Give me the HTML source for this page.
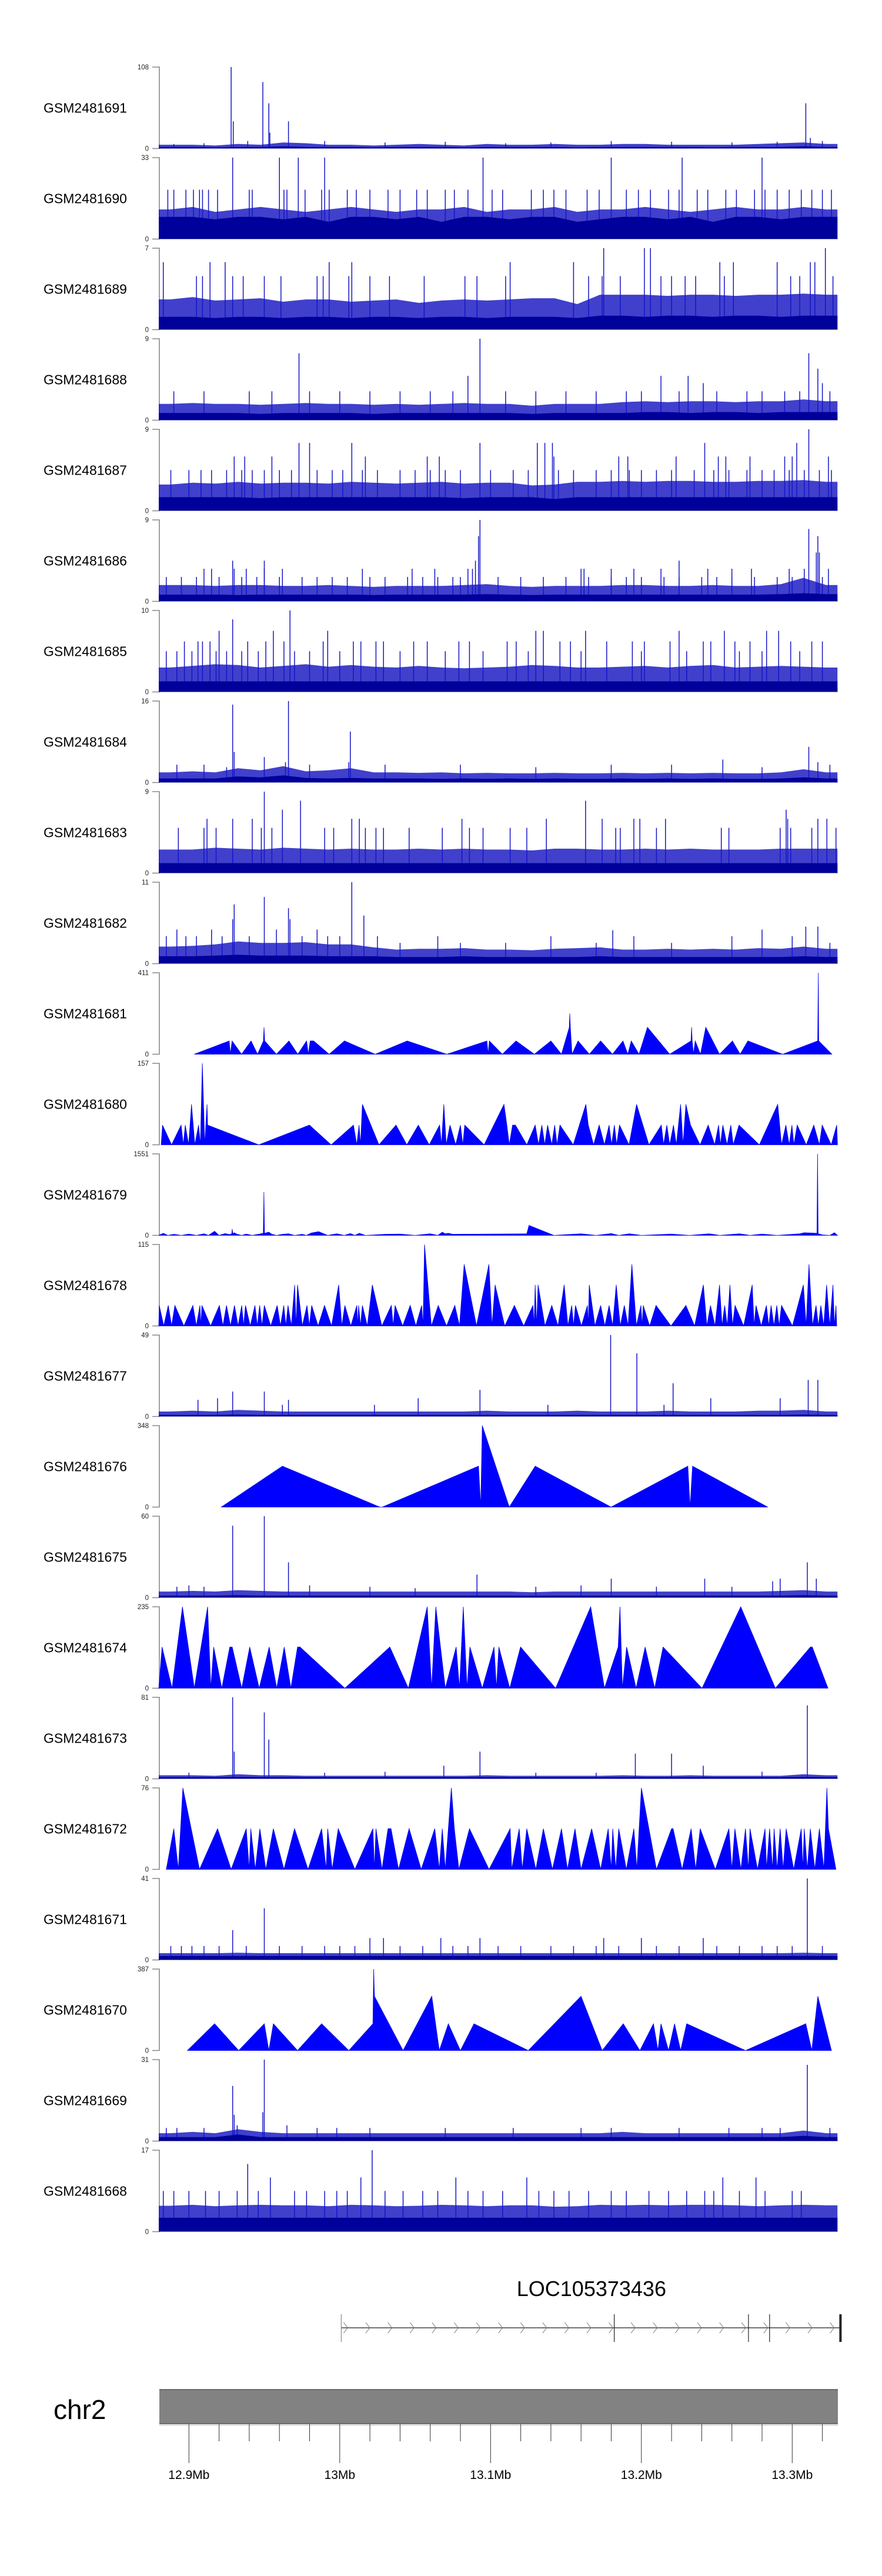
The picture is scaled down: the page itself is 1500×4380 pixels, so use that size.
<!DOCTYPE html>
<html><head><meta charset="utf-8"><title>Coverage tracks chr2</title>
<style>
html,body{margin:0;padding:0;background:#fff;}
svg{display:block;font-family:"Liberation Sans",Arial,sans-serif;}
</style></head>
<body>
<svg id="chart" xmlns="http://www.w3.org/2000/svg" width="1500" height="4380" viewBox="0 0 1500 4380">
<rect x="0" y="0" width="1500" height="4380" fill="#fff"/>
<g id="tracks"></g>
<g id="gene"></g>
<g id="ideo"></g>
</svg>
<script>
// ---------- data (positions in kb from region start 12,880 kb) ----------
const trackNames = ["GSM2481691","GSM2481690","GSM2481689","GSM2481688","GSM2481687","GSM2481686","GSM2481685","GSM2481684","GSM2481683","GSM2481682","GSM2481681","GSM2481680","GSM2481679","GSM2481678","GSM2481677","GSM2481676","GSM2481675","GSM2481674","GSM2481673","GSM2481672","GSM2481671","GSM2481670","GSM2481669","GSM2481668"];
const trackMax = [108,33,7,9,9,9,10,16,9,11,411,157,1551,115,49,348,60,235,81,76,41,387,31,17];
const REGION_START_KB = 12880;
const REGION_LEN_KB = 450;
const majorTicksMb = [12.9,13.0,13.1,13.2,13.3];
const majorTickLabels = ["12.9Mb","13Mb","13.1Mb","13.2Mb","13.3Mb"];
const minorTicksMb = [12.92,12.94,12.96,12.98,13.02,13.04,13.06,13.08,13.12,13.14,13.16,13.18,13.22,13.24,13.26,13.28,13.32];
const geneName = "LOC105373436";
const geneStartKb = 121;
const geneEndKb = 452;
const geneExonKb = [121,302,391,405,452];

const lo691 = [2,2,1.5,2,2,3,2,2,2,1.5,2,2,2,1.5,2,2,2,2,1.5,2,2,2,2,2,1.5,2,2,2,3,2];
const hi691 = [5,5,4,6,5,8,7,5,5,4,5,6,5,4,6,5,5,6,5,5,6,6,5,5,5,5,6,7,8,6];
const spPos691 = [48,49.4,59,69,73,73.7,86,10,30,110,150,190,230,260,300,340,380,410,429,432,440];
const spVal691 = [108,36,10,88,60,21,36,6,7,10,8,9,7,8,10,9,8,9,60,14,10];

const lo690 = [9,9,8,9,9,8,9,7,9,9,8,9,7,9,9,8,9,9,7,8,9,9,8,9,7,9,9,8,9,9];
const hi690 = [12,13,11,12,13,12,11,12,13,12,11,12,12,13,11,12,12,13,11,12,12,13,12,11,12,13,12,12,13,12];
const spPos690 = [6,10,18,23,27,29,33,39,60,62,83,85,97,108,113,125,131,140,152,160,171,178,190,196,205,221,228,247,255,262,270,284,292,310,318,326,338,345,357,364,376,383,395,402,410,418,426,433,440,446,49,80,92.5,110,215,300,347,400];
const spVal690 = [20,20,20,20,20,20,20,20,20,20,20,20,20,20,20,20,20,20,20,20,20,20,20,20,20,20,20,20,20,20,20,20,20,20,20,20,20,20,20,20,20,20,20,20,20,20,20,20,20,20,33,33,33,33,33,33,33,33];

const lo689 = [1.1,1.1,1,1.1,1.1,1,1.1,1.1,1,1.1,1.1,1,1.1,1.1,1,1.1,1.1,1.1,1,1.2,1.2,1.1,1.2,1.2,1.1,1.2,1.2,1.1,1.2,1.2];
const hi689 = [2.6,2.8,2.5,2.6,2.7,2.4,2.6,2.6,2.4,2.5,2.6,2.3,2.5,2.6,2.5,2.6,2.7,2.7,2.2,3.0,3.0,3.0,2.9,3.0,3.0,2.9,3.0,3.0,3.1,3.0];
const spPos689 = [25,29,49,56,70,81,105,109,126,140,153,176,203,211,230,285,294,306,333,340,349,356,375,419,425,447,3,34,44,113,128,233,275,372,381,410,432,435,295,322,326,442];
const spVal689 = [4.6,4.6,4.6,4.6,4.6,4.6,4.6,4.6,4.6,4.6,4.6,4.6,4.6,4.6,4.6,4.6,4.6,4.6,4.6,4.6,4.6,4.6,4.6,4.6,4.6,4.6,5.8,5.8,5.8,5.8,5.8,5.8,5.8,5.8,5.8,5.8,5.8,5.8,7,7,7,7];

const lo688 = [0.8,0.8,0.8,0.8,0.7,0.8,0.8,0.8,0.8,0.7,0.8,0.8,0.8,0.8,0.8,0.8,0.7,0.8,0.8,0.8,0.8,0.9,0.9,0.8,0.9,0.9,0.8,0.9,0.9,0.9];
const hi688 = [1.8,1.9,1.8,1.8,1.7,1.8,1.9,1.8,1.8,1.7,1.8,1.7,1.8,1.9,1.8,1.8,1.6,1.8,1.8,1.8,2.0,2.1,2.0,2.1,2.1,2.0,2.1,2.1,2.3,2.1];
const spPos688 = [10,30,60,75,100,120,140,160,180,195,230,250,270,290,310,320,345,370,390,400,415,425,445,93,205,213,333,351,361,431,437,440];
const spVal688 = [3.2,3.2,3.2,3.2,3.2,3.2,3.2,3.2,3.2,3.2,3.2,3.2,3.2,3.2,3.2,3.2,3.2,3.2,3.2,3.2,3.2,3.2,3.2,7.4,4.9,9,4.9,4.9,4.1,7.4,5.7,4.1];

const lo687 = [1.5,1.5,1.5,1.5,1.4,1.5,1.5,1.5,1.5,1.5,1.5,1.5,1.5,1.4,1.5,1.5,1.5,1.3,1.5,1.5,1.5,1.5,1.5,1.5,1.5,1.5,1.5,1.5,1.5,1.5];
const hi687 = [2.9,3.1,3.0,3.2,3.0,3.1,3.1,3.0,3.2,3.1,3.0,3.1,3.2,3.0,3.1,3.1,2.8,2.9,3.2,3.2,3.3,3.2,3.3,3.3,3.2,3.2,3.3,3.3,3.4,3.2];
const spPos687 = [8,20,28,35,45,55,62,70,80,88,105,115,122,135,145,160,170,180,190,200,220,235,245,265,275,290,300,312,320,330,340,355,368,378,390,400,408,418,428,438,446,50,57,75,137,178,186,262,305,311,343,371,376,392,415,420,444,93,100,128,213,251,256,261,362,423,431];
const spVal687 = [4.5,4.5,4.5,4.5,4.5,4.5,4.5,4.5,4.5,4.5,4.5,4.5,4.5,4.5,4.5,4.5,4.5,4.5,4.5,4.5,4.5,4.5,4.5,4.5,4.5,4.5,4.5,4.5,4.5,4.5,4.5,4.5,4.5,4.5,4.5,4.5,4.5,4.5,4.5,4.5,4.5,6,6,6,6,6,6,6,6,6,6,6,6,6,6,6,6,7.5,7.5,7.5,7.5,7.5,7.5,7.5,7.5,7.5,9];

const lo686 = [0.75,0.75,0.75,0.7,0.75,0.75,0.75,0.75,0.75,0.7,0.75,0.75,0.75,0.75,0.8,0.75,0.7,0.75,0.75,0.75,0.75,0.75,0.75,0.75,0.75,0.75,0.75,0.8,0.9,0.8];
const hi686 = [1.8,1.8,1.7,1.8,1.8,1.7,1.7,1.8,1.7,1.6,1.7,1.7,1.7,1.8,1.9,1.7,1.6,1.7,1.7,1.7,1.8,1.8,1.7,1.7,1.8,1.7,1.7,1.9,2.6,1.8];
const spPos686 = [5,15,25,40,55,65,80,95,105,115,125,140,150,165,175,185,195,200,225,240,255,270,285,300,310,320,335,345,360,370,380,395,410,420,440,30,35,50,58,70,82,135,168,183,205,208,280,282,300,315,333,364,380,393,418,428,444,49,70,210,345,213,212,431,437,436,438];
const spVal686 = [2.7,2.7,2.7,2.7,2.7,2.7,2.7,2.7,2.7,2.7,2.7,2.7,2.7,2.7,2.7,2.7,2.7,2.7,2.7,2.7,2.7,2.7,2.7,2.7,2.7,2.7,2.7,2.7,2.7,2.7,2.7,2.7,2.7,2.7,2.7,3.6,3.6,3.6,3.6,3.6,3.6,3.6,3.6,3.6,3.6,3.6,3.6,3.6,3.6,3.6,3.6,3.6,3.6,3.6,3.6,3.6,3.6,4.5,4.5,4.5,4.5,9,7.2,8,7.2,5.4,5.4];

const lo685 = [1.3,1.3,1.3,1.3,1.3,1.3,1.3,1.3,1.3,1.3,1.3,1.3,1.3,1.3,1.3,1.3,1.3,1.3,1.3,1.3,1.3,1.3,1.3,1.3,1.3,1.3,1.3,1.3,1.3,1.3];
const hi685 = [3.0,3.2,3.4,3.3,3.0,3.2,3.4,3.1,3.3,3.1,3.0,3.2,3.0,2.9,3.0,3.1,3.3,3.2,3.0,3.0,3.1,3.2,3.0,3.2,3.3,3.0,3.1,3.2,3.1,3.0];
const spPos685 = [5,12,22,38,45,55,66,90,100,120,160,190,215,245,280,320,350,385,400,425,40,76,112,250,255,283,345,375,403,411,17,26,29,34,59,71,83,109,129,134,144,149,169,178,199,206,231,237,266,273,297,314,322,339,361,366,382,392,419,433,440,49,87];
const spVal685 = [5,5,5,5,5,5,5,5,5,5,5,5,5,5,5,5,5,5,5,5,7.5,7.5,7.5,7.5,7.5,7.5,7.5,7.5,7.5,7.5,6.2,6.2,6.2,6.2,6.2,6.2,6.2,6.2,6.2,6.2,6.2,6.2,6.2,6.2,6.2,6.2,6.2,6.2,6.2,6.2,6.2,6.2,6.2,6.2,6.2,6.2,6.2,6.2,6.2,6.2,6.2,8.9,10];

const lo684 = [0.8,0.8,0.8,1.2,1.0,1.4,0.9,0.8,0.9,0.8,0.8,0.8,0.7,0.8,0.7,0.8,0.7,0.8,0.7,0.7,0.8,0.7,0.8,0.7,0.8,0.7,0.7,0.8,1.0,0.8];
const hi684 = [2,2.2,2,2.8,2.4,3.2,2.2,2.4,2.8,2,2,1.9,2,1.8,1.9,1.8,1.8,1.9,1.8,1.8,1.9,1.8,1.9,1.8,1.9,1.8,1.8,2,2.6,2];
const spPos684 = [49,50,86,84,127,126,70,431,374,437,12,30,45,100,150,200,250,300,340,400,445];
const spVal684 = [15.3,6,16,4,10,4,5,7,4.5,4,3.5,3.5,3,3.5,3.5,3.5,3,3.5,3.5,3,3.5];

const lo683 = [1.1,1.1,1.1,1.1,1.1,1.1,1.1,1.1,1.1,1.1,1.1,1.1,1.1,1.1,1.1,1.1,1.1,1.1,1.1,1.1,1.1,1.1,1.1,1.1,1.1,1.1,1.1,1.1,1.1,1.1];
const hi683 = [2.6,2.6,2.8,2.7,2.6,2.8,2.7,2.6,2.7,2.6,2.6,2.7,2.6,2.7,2.6,2.6,2.5,2.7,2.7,2.6,2.6,2.7,2.6,2.7,2.6,2.6,2.6,2.7,2.7,2.7];
const spPos683 = [13,30,38,68,75,110,116,137,144,149,166,188,206,215,233,244,303,306,330,373,378,412,419,433,449,32,49,62,128,133,201,257,294,315,319,336,417,437,443,82,416,94,283,70];
const spVal683 = [5,5,5,5,5,5,5,5,5,5,5,5,5,5,5,5,5,5,5,5,5,5,5,5,5,6,6,6,6,6,6,6,6,6,6,6,6,6,6,7,7,8,8,9];

const lo682 = [1,1,1.1,1.2,1.1,1.1,1.1,1,1,1,0.9,0.9,0.9,1,0.9,0.9,0.9,0.9,0.9,1,0.9,0.9,0.9,0.9,0.9,0.9,0.9,0.9,1,0.9];
const hi682 = [2.3,2.4,2.6,3.0,2.8,2.8,2.9,2.6,2.6,2.2,1.9,2,2,2.1,1.9,1.9,1.8,2,2.1,2.2,1.9,1.9,2,1.9,2,1.9,2.1,2,2.3,2];
const spPos682 = [128,70,50,86,136,301,429,437,49,87,5,12,18,25,35,42,60,78,95,105,112,120,145,160,185,200,230,260,290,315,340,380,400,420,445];
const spVal682 = [11,9,8,7.5,6.5,4.5,5,5,6,6,3.7,4.6,3.7,3.7,4.6,3.7,3.7,4.6,3.7,4.6,3.7,3.7,3.7,2.8,3.7,2.8,2.8,3.7,2.8,3.7,2.8,3.7,4.6,3.7,2.8];

const lo677 = [1,1,1,1.2,1,1,1,1,1,1,1,1,1,1,1,1,1,1,1,1,1,1,1,1,1,1,1,1,1.2,1];
const hi677 = [3,3.5,3,4,3.5,3,3,3,3,3,3,3,3,3,3.5,3,3,3,3.5,3,3,3,3.5,3,3,3,3.5,3.5,4,3];
const spPos677 = [299.6,317,341,430.6,437,213,49,70,39,26,86,366,412,172,143,335,258,82];
const spVal677 = [49,38,20,22,22,16,15,15,11,10,10,11,11,11,7,7,7,7];

const lo675 = [1.5,1.5,1.5,1.8,1.5,1.5,1.5,1.5,1.5,1.5,1.5,1.5,1.5,1.5,1.5,1.5,1.4,1.5,1.5,1.5,1.5,1.5,1.5,1.5,1.5,1.5,1.5,1.5,1.8,1.5];
const hi675 = [4.5,5,4.5,5.5,5,4.5,4.5,4.5,4.5,4.5,4.5,4.5,4.5,4.5,4.5,4.5,4,4.5,4.5,4.5,4.5,4.5,4.5,4.5,4.5,4.5,4.5,5,5.5,4.5];
const spPos675 = [49,70,86,211,300,430,362,412,436,407,12,20,30,100,140,170,250,280,330,380];
const spVal675 = [53,60,26,17,14,26,14,14,14,12,8,9,8,9,8,7,8,9,8,8];

const lo673 = [1.5,1.5,1.5,1.8,1.5,1.5,1.5,1.5,1.5,1.5,1.5,1.5,1.5,1.5,1.5,1.5,1.5,1.5,1.5,1.5,1.5,1.5,1.5,1.5,1.5,1.5,1.5,1.5,1.8,1.5];
const hi673 = [3.5,3.5,3,4.5,3.5,3.5,3,3,3,3,3,3,3,3,3.5,3,3,3,3,3,3.5,3,3,3.5,3,3,3,3,4.5,3.5];
const spPos673 = [49,70,73,213,189,316,340,361,430,50,20,110,150,250,290,400];
const spVal673 = [81,66,39,27,13,25,25,13,73,27,6,6,7,6,6,7];

const lo671 = [2,2,2,2,2,2,2,2,2,2,2,2,2,2,2,2,2,2,2,2,2,2,2,2,2,2,2,2,2,2];
const hi671 = [3.4,3.4,3.4,3.6,3.4,3.4,3.4,3.4,3.4,3.4,3.4,3.4,3.4,3.4,3.4,3.4,3.4,3.4,3.4,3.4,3.4,3.4,3.4,3.4,3.4,3.4,3.4,3.4,3.6,3.4];
const spPos671 = [430,70,49,140,149,187,213,295,320,361,8,15,22,30,40,58,80,95,110,120,130,160,175,195,205,225,240,260,275,290,305,330,345,370,385,400,410,420,440];
const spVal671 = [41,26,15,11,11,11,11,11,11,11,7,7,7,7,7,7,7,7,7,7,7,7,7,7,7,7,7,7,7,7,7,7,7,7,7,7,7,7,7];

const lo669 = [1.5,1.5,1.5,2.5,1.5,1.5,1.5,1.5,1.5,1.5,1.5,1.5,1.5,1.5,1.5,1.5,1.5,1.5,1.5,1.5,1.5,1.5,1.5,1.5,1.5,1.5,1.5,1.5,2,1.5];
const hi669 = [3,3.5,3,4.5,3.5,3,3,3,3,3,3,3,3,3,3,3,3,3,3,3,3.5,3,3,3,3,3,3,3,4,3];
const spPos669 = [49,70,430,50,52,69,5,12,30,85,105,118,140,190,235,280,300,345,378,400,412,445];
const spVal669 = [21,31,29,10,6,11,5,5,5,6,5,5,5,5,5,5,5,5,5,5,5,5];

const lo668 = [2.9,2.9,2.9,2.9,2.9,2.9,2.9,2.9,2.9,2.9,2.9,2.9,2.9,2.9,2.9,2.9,2.9,2.9,2.9,2.9,2.9,2.9,2.9,2.9,2.9,2.9,2.9,2.9,2.9,2.9];
const hi668 = [5.4,5.6,5.3,5.5,5.6,5.5,5.5,5.3,5.6,5.5,5.3,5.4,5.6,5.5,5.3,5.5,5.5,5.2,5.3,5.6,5.5,5.6,5.5,5.6,5.6,5.5,5.3,5.5,5.6,5.5];
const spPos668 = [59,141.5,74,134,197,244,374,396,3,10,20,31,40,52,66,90,98,110,118,125,150,162,175,185,205,215,228,252,262,272,285,300,310,325,338,350,362,368,385,402,420,426];
const spVal668 = [14.1,17,11.3,11.3,11.3,11.3,11.3,11.3,8.5,8.5,8.5,8.5,8.5,8.5,8.5,8.5,8.5,8.5,8.5,8.5,8.5,8.5,8.5,8.5,8.5,8.5,8.5,8.5,8.5,8.5,8.5,8.5,8.5,8.5,8.5,8.5,8.5,8.5,8.5,8.5,8.5,8.5];

const pos681 = [23.5,46.7,47.5,48.6,54.9,61.2,65.5,69.4,69.8,70.2,78,86.3,92.2,98,99.2,100.4,102.7,113,123.1,143.5,164.7,191,217.6,218.4,219.2,227.8,236.9,249,260,267,272.2,272.5,272.9,274,278,285.5,293,300.8,307.8,311,313.3,318.4,324,338.8,352.9,353.3,353.7,354.5,355.7,359.2,362.7,371.8,380.4,385.5,390.6,413.7,436.9,437.3,437.6,446.3];
const val681 = [0,67,0,67,0,67,0,67,136,67,0,67,0,67,0,67,67,0,67,0,67,0,67,0,67,0,67,0,67,0,136,205,136,0,67,0,67,0,67,0,67,0,136,0,67,136,67,0,67,0,136,0,67,0,67,0,67,411,67,0];

const pos680 = [1.6,2.5,8.5,14.8,16.3,17.6,19.8,21.7,23.9,26.4,27.6,28.9,30.5,32,32.4,66.3,99.9,114.3,129.1,131.3,132.8,133.8,135,146,157.3,164.5,172.1,179.3,186.2,187.5,189,190.6,193.1,196.9,200,201.6,202.9,215.7,228.9,230.8,232.4,234.6,236.5,244,249.6,251.8,254,255.9,257.8,260.6,262.5,264.1,266,274.8,283.2,284.8,288.3,292,295.5,298.6,300.2,302.1,303.6,305.5,311.8,316.8,325,333.2,334.7,336.9,338.8,341.3,343.2,346,347.6,349.5,352.6,358.9,364.3,368.6,371.2,372.4,374,376.8,379.3,380.9,384.7,398.2,410.4,412.9,415.8,418,419.8,421.1,423.3,429.3,434.3,438,439.9,445.9,449.5,450];
const val680 = [0,38,0,38,0,38,0,78,0,38,0,157,0,78,38,0,38,0,38,0,38,0,78,0,38,0,38,0,38,0,78,0,38,0,38,0,38,0,78,38,0,38,38,0,38,0,38,0,38,0,38,0,38,0,78,38,0,38,0,38,0,38,0,38,0,78,0,38,0,38,0,38,0,78,0,78,38,0,38,0,38,0,38,0,38,0,38,0,78,0,38,0,38,0,38,0,38,0,38,0,38,0];

const pos679 = [0,3,6,10,15,20,25,30,33,37,40,44,47,48.4,48.7,49.1,50,52,55,58,62,66,69.3,69.7,70.1,73,75,78,82,86,90,95,98,101,106,112,118,123,127,130,133,137,150,160,170,180,185,188,190,192,195,244,245.5,262,280,290,300,305,312,320,340,352,365,372,385,392,400,410,425,428,436.4,436.8,437.2,440,445,448,450];
const val679 = [0,40,0,20,0,25,0,30,0,78,0,35,15,30,120,30,50,20,0,25,0,20,40,826,40,60,20,0,20,30,0,20,0,45,70,0,30,0,35,0,40,0,20,25,0,30,0,60,30,40,20,30,190,0,30,0,35,0,30,0,25,0,30,0,30,0,25,0,30,50,40,1551,30,10,0,50,0];

const apexPos678 = [0.3,6.3,10.7,22.6,27.3,28.6,40.2,44.9,50.2,55,57.5,63.8,66.9,70,78.5,82.9,85.7,90.1,92,98.3,101.4,109.9,119.3,123.4,131.3,132.5,135,141.6,154.2,156.7,166.7,174.3,176.2,185.3,196.3,202.5,218.9,223,235.8,248.1,249.6,251.5,260.6,268.8,273.8,276.3,284.2,285.4,293,298.6,303.3,308.7,313.7,319.7,321.2,329.7,349.5,361.1,365.8,371.8,375.2,378.7,382.1,393.5,396,402.9,406,409.8,412.9,427.4,431.1,435.8,439,442.8,447,449];
const apexVal678 = [29,29,29,29,29,29,29,29,29,29,29,29,29,29,29,29,29,58,58,29,29,29,58,29,29,29,29,58,29,29,29,29,115,29,29,87,87,58,29,29,58,58,29,58,29,29,29,58,29,29,58,29,87,29,29,29,29,58,29,58,29,58,29,58,29,29,29,29,29,58,87,29,29,58,58,29];

const pos676 = [41.5,82,146.6,148.2,212,213.5,214.5,232.4,249.6,299.9,350.8,352.3,353.9,403.8];
const val676 = [0,175,0,0,175,0,348,0,175,0,175,0,175,0];

const pos674 = [0,2.2,8.8,15.7,23.6,32.4,34.5,36.4,41.8,47.1,48.7,55,60.3,66.6,73.2,78.2,83.2,87.6,92,93.6,123.4,153.2,165.5,178,180.9,183.7,190,197.2,199.4,201.9,204.4,206.3,214.5,222.3,223.9,225.5,232.7,239.9,263.1,286.4,295.5,304.6,305.8,307.4,310.2,316.5,322.5,328.8,334.4,360.2,385.9,408.8,432.1,433.3,443.7];
const val674 = [0,119,0,235,0,235,0,119,0,119,119,0,119,0,119,0,119,0,119,119,0,119,0,235,0,235,0,119,0,235,0,119,0,119,0,119,0,119,0,235,0,119,235,0,119,0,119,0,119,0,235,0,119,119,0];

const pos672 = [5,10,13,16,27,39,48,58,60,61,64,67,71,76,83,90,99,108,111,112,115,119,130,142,143,144,148,152,154,159,166,174,183,186,188,190,192,194,196,199,206,219,233,234,239,241,244,250,255,261,267,271,276,280,287,293,298,300,301,303,305,310,315,317,320,330,340,341,347,353,356,359,369,378,380,382,386,389,391,392,397,402,403,405,407,408,410,412,414,416,421,426,427,428,430,432,435,438,441,443,444,449];
const val672 = [0,38,0,76,0,38,0,38,0,38,0,38,0,38,0,38,0,38,0,38,0,38,0,38,0,38,0,38,38,0,38,0,38,0,38,0,38,76,38,0,38,0,38,0,38,0,38,0,38,0,38,0,38,0,38,0,38,0,38,0,38,0,38,0,76,0,38,38,0,38,0,38,0,38,0,38,0,38,0,38,0,38,0,38,0,38,0,38,0,38,0,38,0,38,0,38,0,38,0,76,38,0];

const pos670 = [19,37,53,70,73,76,92,108,126,142,142.5,143,162,181,186,192,200,209,245,280,294,308,319,328,331,333,338,342,346,350,389,429,433,437,446];
const val670 = [0,127,0,127,0,127,0,127,0,127,387,258,0,258,0,127,0,127,0,258,0,127,0,127,0,127,0,127,0,127,0,127,0,258,0];

// ---------- rendering ----------
const NS = "http://www.w3.org/2000/svg";
const X0 = 270, PX_PER_KB = 2.565;
const TRACK_TOP0 = 114, TRACK_STEP = 154, TRACK_H = 138.5;
function xs(kb){ return X0 + kb*PX_PER_KB; }
function xMb(mb){ return xs(mb*1000 - REGION_START_KB); }
function trackTop(i){ return TRACK_TOP0 + i*TRACK_STEP; }
function ys(v,i){ const b = trackTop(i)+TRACK_H; return b - Math.min(v,trackMax[i])/trackMax[i]*TRACK_H; }
function mk(tag, attrs, parent){ const e=document.createElementNS(NS,tag); for(const k in attrs) e.setAttribute(k,attrs[k]); parent.appendChild(e); return e; }

const dense = {
 0:[lo691,hi691,spPos691,spVal691],1:[lo690,hi690,spPos690,spVal690],2:[lo689,hi689,spPos689,spVal689],
 3:[lo688,hi688,spPos688,spVal688],4:[lo687,hi687,spPos687,spVal687],5:[lo686,hi686,spPos686,spVal686],
 6:[lo685,hi685,spPos685,spVal685],7:[lo684,hi684,spPos684,spVal684],8:[lo683,hi683,spPos683,spVal683],
 9:[lo682,hi682,spPos682,spVal682],14:[lo677,hi677,spPos677,spVal677],16:[lo675,hi675,spPos675,spVal675],
 18:[lo673,hi673,spPos673,spVal673],20:[lo671,hi671,spPos671,spVal671],22:[lo669,hi669,spPos669,spVal669],
 23:[lo668,hi668,spPos668,spVal668]
};
const tri = {10:[pos681,val681],11:[pos680,val680],12:[pos679,val679],15:[pos676,val676],17:[pos674,val674],19:[pos672,val672],21:[pos670,val670]};

function binPoly(arr,i){
  const n=arr.length, w=REGION_LEN_KB/n, base=trackTop(i)+TRACK_H;
  let pts=[xs(0)+','+base, xs(0)+','+ys(arr[0],i)];
  for(let k=0;k<n;k++){ pts.push(xs((k+0.5)*w).toFixed(1)+','+ys(arr[k],i).toFixed(1)); }
  pts.push(xs(REGION_LEN_KB)+','+ys(arr[n-1],i)); pts.push(xs(REGION_LEN_KB)+','+base);
  return pts.join(' ');
}

const tracksG = document.getElementById('tracks');
for(let i=0;i<trackNames.length;i++){
  const g = mk('g',{},tracksG);
  
  
  const top=trackTop(i), bot=top+TRACK_H;
  const lab = mk('text',{x:74,y:top+TRACK_H/2+8,'font-size':23,fill:'#000'},g);
  lab.textContent = trackNames[i];
  
  
  const ax = mk('path',{d:`M259,${top}H271V${bot}H259`,stroke:'#888',fill:'none','stroke-width':1.6},g);
  
  
  const tMax = mk('text',{x:253,y:top+4,'font-size':11.5,'text-anchor':'end',fill:'#222'},g);
  tMax.textContent = String(trackMax[i]);
  
  
  const t0 = mk('text',{x:253,y:bot+4,'font-size':11.5,'text-anchor':'end',fill:'#222'},g);
  t0.textContent = '0';
  
  

  if(dense[i]){
    const [lo,hi,sp,sv]=dense[i];
    const h = mk('polygon',{points:binPoly(hi,i),fill:'rgba(10,10,190,0.78)'},g);
    
    
    for(let k=0;k<sp.length;k++){
      const ln = mk('line',{x1:xs(sp[k]).toFixed(1),x2:xs(sp[k]).toFixed(1),y1:bot,y2:ys(sv[k],i).toFixed(1),stroke:'#1515c8','stroke-width':1.5},g);
      
      
    }
    const l = mk('polygon',{points:binPoly(lo,i),fill:'#00009a'},g);
    
    
    mk('line',{x1:xs(0),x2:xs(REGION_LEN_KB),y1:bot-1,y2:bot-1,stroke:'#00008c','stroke-width':2},g);
  } else {
    let P, V;
    if(tri[i]){ [P,V]=tri[i]; }
    else {
      P=[]; V=[];
      const ap=apexPos678, av=apexVal678;
      P.push(0); V.push(0);
      for(let k=0;k<ap.length;k++){
        P.push(ap[k]); V.push(av[k]);
        const nx = k+1<ap.length ? ap[k+1] : REGION_LEN_KB;
        P.push((ap[k]+nx)/2); V.push(0);
      }
    }
    let pts=[xs(P[0]).toFixed(1)+','+bot];
    for(let k=0;k<P.length;k++) pts.push(xs(P[k]).toFixed(1)+','+ys(V[k],i).toFixed(1));
    pts.push(xs(P[P.length-1]).toFixed(1)+','+bot);
    const poly = mk('polygon',{points:pts.join(' '),fill:'#0000ff',stroke:'#0000ee','stroke-width':0.8},g);
    
    
  }
}

// gene model
const geneG = document.getElementById('gene');
const gy = 3958;
const gl = mk('text',{x:(xs(geneStartKb)+xs(geneEndKb))/2+1,y:3904,'font-size':36,'text-anchor':'middle',fill:'#000'},geneG);
gl.textContent = geneName;


const gline = mk('line',{x1:xs(geneStartKb),x2:xs(geneEndKb),y1:gy,y2:gy,stroke:'#444','stroke-width':1.5},geneG);


for(let c=xs(geneStartKb)+4;c<xs(geneEndKb)-8;c+=37.6){
  const ch = mk('path',{d:`M${c.toFixed(1)},${gy-9}L${(c+7).toFixed(1)},${gy}L${c.toFixed(1)},${gy+9}`,stroke:'#777',fill:'none','stroke-width':1},geneG);
  
  
}
for(let k=0;k<geneExonKb.length;k++){
  const last = k===geneExonKb.length-1;
  const ex = mk('line',{x1:xs(geneExonKb[k]),x2:xs(geneExonKb[k]),y1:3935,y2:3982,stroke:k===0?'#888':'#222','stroke-width':last?4:1.2},geneG);
  
  
}

// chromosome ideogram + axis
const ideo = document.getElementById('ideo');
const cl = mk('text',{x:91,y:4113,'font-size':46,fill:'#000'},ideo);
cl.textContent = 'chr2';


const bar = mk('rect',{x:271,y:4063,width:1154,height:58,fill:'#828282'},ideo);


mk('line',{x1:271,x2:1425,y1:4063,y2:4063,stroke:'#555','stroke-width':1.5},ideo);
mk('line',{x1:271,x2:1425,y1:4121,y2:4121,stroke:'#555','stroke-width':1.5},ideo);
mk('line',{x1:271,x2:1425,y1:4123.5,y2:4123.5,stroke:'#ccc','stroke-width':1.5},ideo);
for(let k=0;k<minorTicksMb.length;k++){
  const x=xMb(minorTicksMb[k]).toFixed(1);
  const t=mk('line',{x1:x,x2:x,y1:4122,y2:4151,stroke:'#333','stroke-width':1},ideo);
  
  
}
for(let k=0;k<majorTicksMb.length;k++){
  const x=xMb(majorTicksMb[k]);
  const t=mk('line',{x1:x.toFixed(1),x2:x.toFixed(1),y1:4122,y2:4188,stroke:'#333','stroke-width':1},ideo);
  
  
  const tl=mk('text',{x:x.toFixed(1),y:4215,'font-size':21,'text-anchor':'middle',fill:'#000'},ideo);
  tl.textContent = majorTickLabels[k];
  
  
}
</script>
</body></html>
